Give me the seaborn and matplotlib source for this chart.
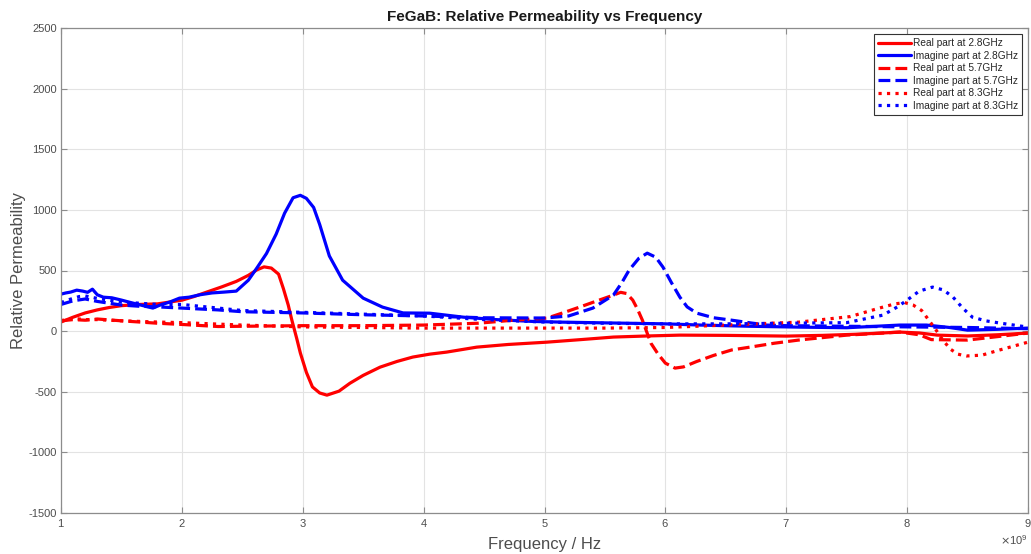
import numpy as np
import pandas as pd
import matplotlib
matplotlib.use("Agg")
import matplotlib.pyplot as plt
import matplotlib.ticker as mticker
import seaborn as sns

# ---- data (frequency in GHz, relative permeability) ----
f_re28 = [1.0, 1.05, 1.1, 1.2, 1.3, 1.4, 1.5, 1.65, 1.8, 2.0, 2.1, 2.2, 2.33, 2.45, 2.55, 2.62, 2.68, 2.74, 2.8, 2.84, 2.88, 2.91, 2.95, 2.98, 3.03, 3.08, 3.14, 3.2, 3.3, 3.39, 3.5, 3.64, 3.78, 3.91, 4.05, 4.19, 4.44, 4.7, 5.02, 5.3, 5.57, 5.85, 6.12, 6.5, 7.0, 7.3, 7.6, 7.94, 8.1, 8.25, 8.5, 8.75, 9.0]
v_re28 = [75, 95, 115, 150, 175, 195, 210, 220, 225, 255, 285, 320, 365, 410, 460, 505, 530, 520, 470, 350, 215, 90, -60, -180, -340, -460, -510, -528, -495, -430, -365, -297, -250, -214, -190, -173, -132, -110, -91, -70, -49, -40, -33, -35, -41, -35, -25, -8, -15, -33, -40, -30, -16]

f_im28 = [1.0, 1.04, 1.08, 1.13, 1.18, 1.22, 1.26, 1.3, 1.35, 1.42, 1.5, 1.56, 1.62, 1.7, 1.76, 1.82, 1.9, 1.98, 2.06, 2.15, 2.25, 2.35, 2.45, 2.55, 2.62, 2.7, 2.78, 2.85, 2.92, 2.98, 3.03, 3.09, 3.14, 3.22, 3.33, 3.5, 3.66, 3.83, 4.05, 4.33, 4.6, 4.9, 5.15, 5.5, 6.0, 6.29, 6.7, 7.11, 7.5, 7.94, 8.16, 8.35, 8.5, 8.75, 9.0]
v_im28 = [305, 315, 322, 338, 330, 320, 346, 300, 280, 275, 256, 240, 225, 205, 190, 215, 240, 272, 280, 300, 315, 322, 330, 420, 520, 640, 800, 973, 1100, 1120, 1095, 1020, 880, 620, 420, 272, 198, 150, 148, 115, 95, 80, 74, 68, 60, 50, 40, 33, 28, 50, 50, 30, 8, 15, 25]

f_re57 = [1.0, 1.1, 1.2, 1.3, 1.5, 1.8, 2.0, 2.3, 2.5, 3.0, 3.5, 4.0, 4.45, 4.74, 5.02, 5.15, 5.29, 5.45, 5.57, 5.63, 5.68, 5.73, 5.77, 5.81, 5.88, 5.94, 6.0, 6.08, 6.15, 6.26, 6.4, 6.55, 6.7, 6.9, 7.1, 7.5, 7.94, 8.1, 8.2, 8.5, 8.75, 9.0]
v_re57 = [85, 95, 90, 100, 85, 65, 55, 38, 40, 45, 45, 50, 65, 90, 107, 150, 198, 255, 297, 320, 310, 256, 180, 90, -99, -190, -264, -305, -295, -250, -200, -155, -132, -100, -74, -33, -8, -30, -70, -74, -45, -16]

f_im57 = [1.0, 1.05, 1.1, 1.2, 1.3, 1.4, 1.5, 1.65, 1.8, 2.0, 2.3, 2.5, 3.0, 3.5, 4.0, 4.5, 5.0, 5.2, 5.4, 5.57, 5.64, 5.7, 5.78, 5.85, 5.92, 5.98, 6.05, 6.12, 6.18, 6.26, 6.4, 6.55, 6.83, 7.0, 7.5, 8.0, 8.5, 9.0]
v_im57 = [220, 235, 250, 265, 245, 230, 215, 205, 200, 190, 175, 160, 150, 135, 125, 110, 108, 125, 190, 297, 400, 503, 600, 643, 610, 528, 400, 280, 200, 148, 110, 90, 50, 45, 40, 35, 30, 20]

f_re83 = [1.0, 1.05, 1.1, 1.2, 1.3, 1.5, 1.8, 2.0, 2.5, 3.0, 3.5, 4.0, 4.5, 5.0, 5.5, 6.0, 6.5, 7.1, 7.53, 7.77, 7.9, 7.98, 8.05, 8.12, 8.18, 8.24, 8.3, 8.36, 8.42, 8.49, 8.62, 8.76, 9.0]
v_re83 = [85, 100, 105, 95, 95, 85, 75, 70, 50, 35, 30, 25, 25, 25, 25, 30, 50, 74, 120, 190, 225, 235, 215, 170, 90, 8, -80, -150, -190, -205, -198, -157, -91]

f_im83 = [1.0, 1.05, 1.1, 1.15, 1.2, 1.3, 1.4, 1.5, 1.65, 1.8, 2.0, 2.3, 2.5, 3.0, 3.5, 4.0, 4.5, 5.0, 5.5, 6.0, 6.5, 7.0, 7.5, 7.8, 7.92, 8.0, 8.1, 8.21, 8.3, 8.38, 8.46, 8.54, 8.65, 8.77, 9.0]
v_im83 = [235, 255, 270, 285, 290, 270, 255, 240, 230, 220, 220, 190, 170, 155, 140, 125, 95, 75, 65, 60, 60, 65, 70, 132, 200, 256, 330, 363, 340, 280, 190, 115, 85, 66, 33]

labels = ["Real part at 2.8GHz", "Imagine part at 2.8GHz",
          "Real part at 5.7GHz", "Imagine part at 5.7GHz",
          "Real part at 8.3GHz", "Imagine part at 8.3GHz"]
x_ticks = [1, 2, 3, 4, 5, 6, 7, 8, 9]
y_ticks = [-1500, -1000, -500, 0, 500, 1000, 1500, 2000, 2500]

series = [
    (f_re28, v_re28, "#ff0000", "-"),
    (f_im28, v_im28, "#0000ff", "-"),
    (f_re57, v_re57, "#ff0000", "--"),
    (f_im57, v_im57, "#0000ff", "--"),
    (f_re83, v_re83, "#ff0000", ":"),
    (f_im83, v_im83, "#0000ff", ":"),
]

sns.set_theme(style="whitegrid")
plt.rcParams['font.family'] = ['Liberation Sans', 'DejaVu Sans']
plt.rcParams['axes.unicode_minus'] = False

fig = plt.figure(figsize=(10.31, 5.54), dpi=100)
ax = fig.add_axes([61/1031, 1-513/554, (1028-61)/1031, (513-28)/554])
ax.set_facecolor("white")

for (f, v, c, ls), lab in zip(series, labels):
    df = pd.DataFrame({"Frequency": np.array(f) * 1e9, "Value": v})
    sns.lineplot(data=df, x="Frequency", y="Value", ax=ax, color=c,
                 linestyle=ls, linewidth=2.3, label=lab, sort=True,
                 estimator=None)

ax.set_xlim(1e9, 9e9)
ax.set_ylim(-1500, 2500)
ax.set_xticks([t * 1e9 for t in x_ticks])
ax.set_yticks(y_ticks)
fmt = mticker.ScalarFormatter(useMathText=True)
fmt.set_powerlimits((0, 0))
ax.xaxis.set_major_formatter(fmt)
ax.xaxis.get_offset_text().set_fontsize(8)
ax.xaxis.get_offset_text().set_color("#4d4d4d")

ax.grid(True, color="#e3e3e3", linewidth=0.8)
for s in ax.spines.values():
    s.set_color("#8c8c8c")
    s.set_linewidth(0.9)
ax.tick_params(direction="in", length=4, width=0.8, color="#8c8c8c",
               labelsize=8, labelcolor="#4d4d4d", top=True, right=True,
               bottom=True, left=True, pad=3)

ax.set_title("FeGaB: Relative Permeability vs Frequency", fontsize=11,
             fontweight="bold", color="#1a1a1a", pad=5)
ax.set_xlabel("Frequency / Hz", fontsize=12, color="#4d4d4d", labelpad=6)
ax.set_ylabel("Relative Permeability", fontsize=12, color="#4d4d4d", labelpad=2)

leg = ax.legend(loc="upper right", fontsize=7.3, frameon=True, fancybox=False,
                edgecolor="#333333", framealpha=1, handlelength=3.2,
                handletextpad=0.2, borderpad=0.4, labelspacing=0.25,
                borderaxespad=0.6)
leg.get_frame().set_linewidth(0.8)

fig.savefig("out.png", dpi=100)
